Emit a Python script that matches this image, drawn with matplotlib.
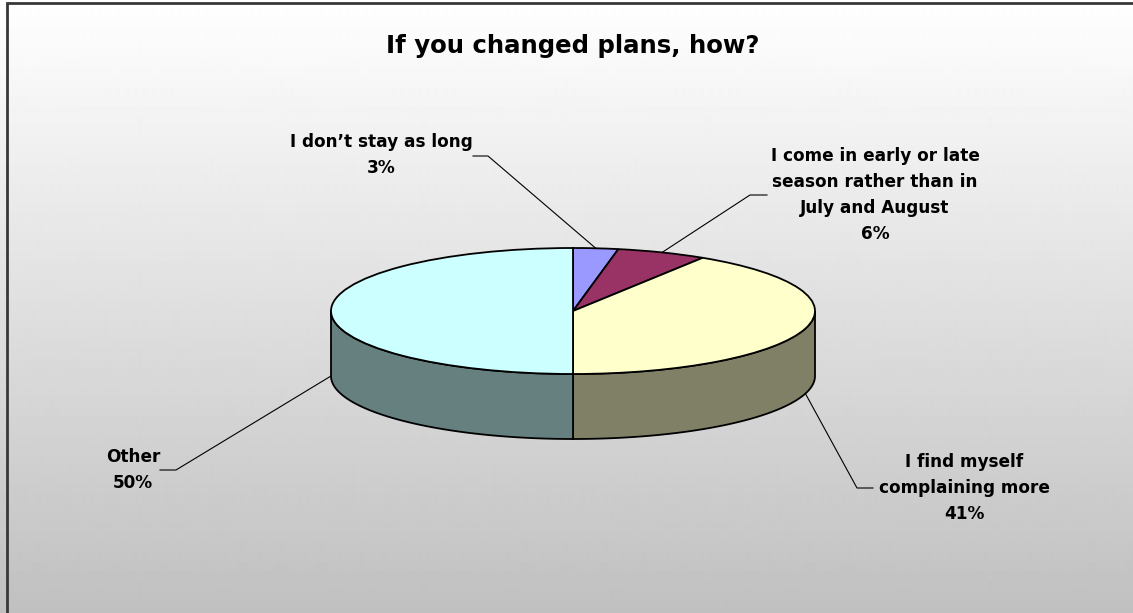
import matplotlib
matplotlib.use("Agg")
import matplotlib.pyplot as plt
import matplotlib.patches as patches
import numpy as np

# survey answers, clockwise from 12 o'clock
labels = ["I don\u2019t stay as long",
          "I come in early or late\nseason rather than in\nJuly and August",
          "I find myself\ncomplaining more",
          "Other"]
shares = [3, 6, 41, 50]
top_colors = ["#9999FF", "#993366", "#FFFFCC", "#CCFFFF"]
side_colors = ["#4D4D80", "#4D1A33", "#808066", "#668080"]

W, H = 1133, 613
cx, cy = 573, 311      # centre of the top face, pixels from top-left
rx, ry = 242, 63       # ellipse radii of the top face
depth = 65             # thickness of the disc


def px(x, y):
    # pixel position -> pie axes units
    return (x - cx) / rx, (cy - y) / ry


fig = plt.figure(figsize=(W / 100, H / 100), dpi=100)

# grey gradient background; only the left and top edges of the frame show
bg = fig.add_axes([0, 0, 1, 1])
grad = np.linspace(255, 192, H)[:, None] * np.ones((1, 4))
bg.imshow(grad, cmap="gray", vmin=0, vmax=255, aspect="auto",
          extent=(0, W, H, 0), interpolation="bilinear")
bg.plot([7, 7, W + 10], [H + 10, 2.5, 2.5], color="#383838", linewidth=2,
        solid_joinstyle="miter")
bg.set_xlim(0, W)
bg.set_ylim(H, 0)
bg.axis("off")

ax = fig.add_axes([0, 0, 1, 1], zorder=2)
ax.patch.set_alpha(0)

# side walls: only the front half (90..270 deg clockwise from top) is seen
fr = np.cumsum([0] + shares) / sum(shares) * 360.0
d = depth / ry
for i in range(len(shares)):
    a0, a1 = max(fr[i], 90), min(fr[i + 1], 270)
    if a1 <= a0:
        continue
    t = np.radians(np.linspace(a0, a1, 100))
    xs, ys = np.sin(t), np.cos(t)
    poly = np.concatenate([np.c_[xs, ys], np.c_[xs[::-1], ys[::-1] - d]])
    ax.add_patch(patches.Polygon(poly, closed=True, facecolor=side_colors[i],
                                 edgecolor="black", linewidth=1.3, zorder=1))

# top face
wedges, _ = ax.pie(shares, colors=top_colors, startangle=90, counterclock=False,
                   wedgeprops=dict(edgecolor="black", linewidth=1.3))
for w in wedges:
    w.set_zorder(2)

ax.set_aspect("auto")
ax.set_xlim(-cx / rx, (W - cx) / rx)
ax.set_ylim(-(H - cy) / ry, cy / ry)
ax.axis("off")

ax.text(*px(573, 46), "If you changed plans, how?", ha="center", va="center",
        fontsize=17.6, fontweight="bold", color="black")

# label centre, elbow of the leader, end of the short horizontal piece,
# and whether the leader meets the bottom rim (front slices)
label_pos = [(381, 155), (875, 195), (964, 488), (133, 470)]
elbows = [(488, 156), (750, 195), (857, 488), (176, 470)]
stubs = [(473, 156), (767, 195), (873, 488), (160, 470)]
on_rim = [False, False, True, True]

for i, (lab, val) in enumerate(zip(labels, shares)):
    mid = np.radians((fr[i] + fr[i + 1]) / 2)
    tx, ty = np.sin(mid), np.cos(mid)
    if on_rim[i]:
        ty -= d
    ex, ey = px(*elbows[i])
    sx, sy = px(*stubs[i])
    ax.plot([tx, ex, sx], [ty, ey, sy], color="black", linewidth=0.8, zorder=3)
    ax.text(*px(*label_pos[i]), f"{lab}\n{val}%", ha="center", va="center",
            fontsize=12.2, fontweight="bold", linespacing=1.55, zorder=4)

fig.savefig("out.png", dpi=100)
